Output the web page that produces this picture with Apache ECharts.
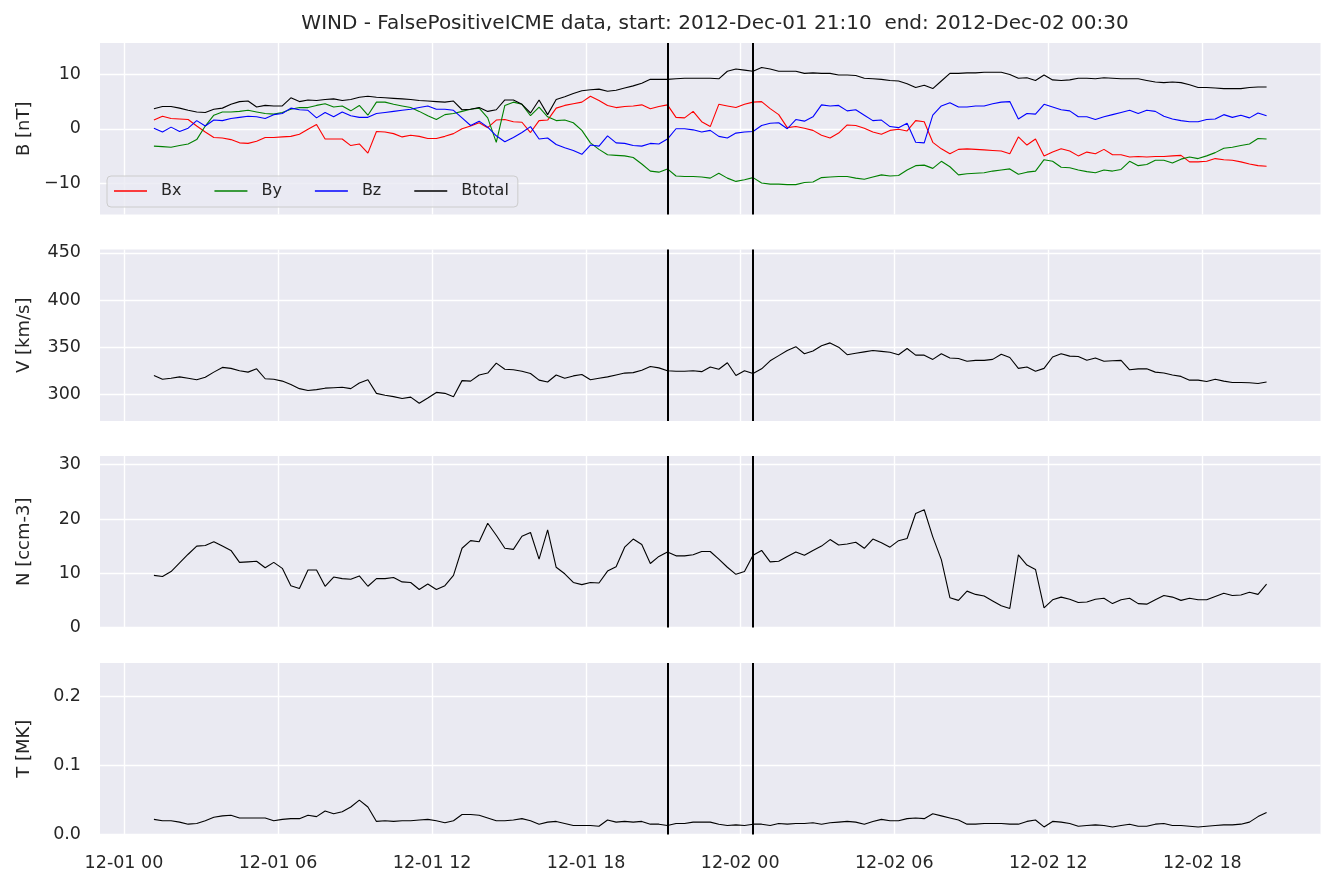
<!DOCTYPE html>
<html>
<head>
<meta charset="utf-8">
<script src="https://cdn.jsdelivr.net/npm/echarts@6/dist/echarts.min.js"></script>
<style>html,body{margin:0;padding:0;background:#fff}#c{width:1336px;height:886px}</style>
</head>
<body>
<div id="c"></div>
<script>
// ---- data (20-minute samples from 2012-12-01 01:10 to 2012-12-02 20:30) ----
const startTime = '2012-12-01T01:10';
const stepMinutes = 20;

const Bx = [
 1.6,2.3,1.9, 1.8,1.7,0.5, -0.6,-1.6,-1.7, -2.0,-2.6,-2.7,
 -2.3,-1.6,-1.6, -1.5,-1.4,-1.0, -0.1,0.8,-1.9, -1.9,-1.9,-3.1,
 -2.8,-4.5,-0.5, -0.6,-0.9,-1.5, -1.2,-1.4,-1.8, -1.8,-1.4,-0.9,
 0.0,0.5,1.1, 0.2,1.6,1.7, 1.3,1.2,-0.7, 1.5,1.6,3.8,
 4.3,4.6,4.9, 6.0,5.2,4.3, 3.9,4.1,4.2, 4.4,3.7,4.1,
 4.4,2.1,2.0, 3.2,1.3,0.4, 4.5,4.2,3.9, 4.5,4.9,5.0,
 3.7,2.6,0.2, 0.4,0.1,-0.3, -1.2,-1.7,-0.8, 0.7,0.6,0.1,
 -0.6,-1.0,-0.3, -0.1,-0.4,1.5, 1.3,-2.5,-3.7, -4.6,-3.8,-3.7,
 -3.8,-3.9,-4.0, -4.1,-4.6,-1.5, -3.0,-1.9,-5.0, -4.3,-3.7,-4.1,
 -5.0,-4.3,-4.6, -3.8,-4.8,-4.8, -5.2,-5.1,-5.2, -5.1,-5.1,-5.0,
 -4.9,-6.1,-6.1, -6.0,-5.5,-5.7, -5.8,-6.1,-6.5, -6.8,-6.9
];
const By = [
 -3.2,-3.3,-3.4, -3.1,-2.8,-2.0, 0.5,2.5,3.1, 3.1,3.2,3.4,
 3.1,2.8,2.7, 3.0,3.6,3.9, 3.9,4.3,4.6, 4.0,4.2,3.3,
 4.3,2.5,4.9, 4.9,4.5,4.2, 3.9,3.2,2.4, 1.7,2.6,2.8,
 3.2,3.6,3.8, 2.0,-2.5,4.3, 4.9,4.5,2.4, 4.0,2.2,1.5,
 1.6,1.1,-0.3, -2.6,-3.8,-4.8, -4.9,-5.0,-5.3, -6.5,-7.8,-8.0,
 -7.4,-8.7,-8.8, -8.8,-8.9,-9.1, -8.2,-9.1,-9.7, -9.4,-9.0,-10.0,
 -10.2,-10.2,-10.3, -10.3,-9.9,-9.8, -9.0,-8.9,-8.8, -8.8,-9.1,-9.3,
 -8.9,-8.5,-8.7, -8.6,-7.6,-6.8, -6.7,-7.3,-6.0, -7.0,-8.5,-8.3,
 -8.2,-8.1,-7.8, -7.6,-7.4,-8.4, -8.0,-7.8,-5.7, -6.0,-7.1,-7.2,
 -7.6,-7.9,-8.1, -7.6,-7.8,-7.5, -6.0,-6.8,-6.6, -5.8,-5.8,-6.3,
 -5.6,-5.2,-5.5, -5.0,-4.4,-3.6, -3.4,-3.1,-2.8, -1.8,-1.9
];
const Bz = [
 0.1,-0.6,0.3, -0.5,0.1,1.5, 0.5,1.6,1.5, 1.9,2.1,2.3,
 2.2,1.9,2.6, 2.8,3.8,3.5, 3.4,2.0,3.0, 2.2,3.1,2.4,
 2.1,2.1,2.8, 3.0,3.2,3.4, 3.6,3.9,4.2, 3.6,3.6,3.4,
 2.0,0.6,1.4, 0.3,-1.3,-2.4, -1.6,-0.7,0.4, -1.9,-1.7,-2.9,
 -3.5,-4.0,-4.7, -3.0,-3.2,-1.3, -2.6,-2.7,-3.1, -3.2,-2.7,-2.8,
 -1.9,0.0,0.0, -0.2,-0.6,-0.3, -1.4,-1.7,-0.8, -0.6,-0.5,0.6,
 1.0,1.1,0.0, 1.7,1.4,2.2, 4.4,4.2,4.3, 3.3,3.5,2.5,
 1.5,1.6,0.4, 0.2,1.0,-2.5, -2.6,2.5,4.2, 4.8,4.0,4.0,
 4.2,4.2,4.6, 4.9,5.0,1.8, 2.8,2.7,4.5, 4.0,3.5,3.3,
 2.2,2.2,1.7, 2.2,2.6,3.0, 3.4,2.8,3.4, 3.2,2.3,1.8,
 1.5,1.3,1.3, 1.7,1.8,2.6, 2.1,2.5,2.0, 2.9,2.4
];
const Btotal = [
 3.7,4.1,4.1, 3.8,3.4,3.1, 3.0,3.6,3.8, 4.5,5.0,5.1,
 4.0,4.3,4.2, 4.2,5.7,5.0, 5.3,5.2,5.4, 5.5,5.2,5.4,
 5.8,6.0,5.8, 5.7,5.6,5.5, 5.4,5.2,5.1, 5.0,4.9,5.1,
 3.5,3.6,3.9, 3.2,3.5,5.3, 5.3,4.5,2.9, 5.3,2.6,5.4,
 5.9,6.5,7.0, 7.2,7.3,6.9, 7.1,7.5,7.9, 8.4,9.1,9.1,
 9.1,9.2,9.3, 9.3,9.3,9.3, 9.2,10.6,11.0, 10.8,10.6,11.3,
 11.0,10.6,10.6, 10.6,10.2,10.3, 10.2,10.2,9.9, 9.9,9.8,9.3,
 9.2,9.1,8.9, 8.8,8.3,7.6, 8.0,7.4,8.8, 10.2,10.2,10.3,
 10.3,10.4,10.4, 10.4,10.0,9.3, 9.4,8.9,9.9, 9.0,8.9,9.0,
 9.3,9.3,9.2, 9.4,9.3,9.2, 9.2,9.2,8.9, 8.6,8.5,8.6,
 8.5,8.1,7.6, 7.6,7.5,7.4, 7.4,7.4,7.6, 7.7,7.7
];
const V = [
 320,316,317, 318.5,317,315.5, 318,323.5,328.5, 327.5,325,323.5,
 327,316.5,316, 314,310.5,306, 304,305,306.5, 307,307.5,306,
 312,315.5,301, 299,297.5,295.5, 297,290.5,296, 302,301,297.5,
 314.5,314,320.5, 322.5,333,326.5, 326,324.5,322, 315,313,320.5,
 317,319.5,321, 315.5,317,318.5, 320.5,322.5,323, 325.5,329.5,328,
 325,324.5,324.5, 325,324,329, 326.5,333.5,320, 325,322,327,
 335.5,341,346.5, 350.5,343,346, 351.5,354.5,350, 342,343.5,345,
 346.5,345.5,344.5, 342,348.5,341.5, 341.5,337,343, 338.5,338,335,
 336,336,337, 342.5,339,327.5, 329,324.5,327.5, 339.5,343,340.5,
 340,336,338.5, 335,335.5,336, 326,327,327, 323.5,322.5,320.5,
 319,315,315, 313.5,316,314, 312.5,312.5,312.3, 311.5,313
];
const N = [
 9.6,9.4,10.3, 11.9,13.5,15.0, 15.1,15.8,15.0, 14.2,12.0,12.1,
 12.2,11.0,12.0, 10.9,7.7,7.2, 10.6,10.6,7.6, 9.3,9.0,8.9,
 9.5,7.6,9.0, 9.0,9.2,8.4, 8.3,7.0,8.0, 7.0,7.7,9.6,
 14.6,16.0,15.8, 19.2,17.0,14.6, 14.4,16.8,17.5, 12.6,18.0,11.1,
 9.9,8.3,7.9, 8.3,8.2,10.4, 11.2,14.8,16.3, 15.3,11.8,13.1,
 13.9,13.2,13.2, 13.4,14.0,14.0, 12.6,11.1,9.8, 10.3,13.3,14.2,
 12.1,12.2,13.1, 13.9,13.3,14.2, 15.0,16.2,15.2, 15.4,15.7,14.6,
 16.3,15.6,14.8, 16.0,16.4,21.0, 21.7,16.7,12.5, 5.5,5.0,6.7,
 6.1,5.8,4.9, 4.0,3.5,13.4, 11.5,10.7,3.6, 5.1,5.6,5.2,
 4.6,4.7,5.2, 5.4,4.4,5.1, 5.4,4.4,4.3, 5.1,5.9,5.6,
 5.0,5.4,5.1, 5.1,5.7,6.3, 5.9,6.0,6.5, 6.1,8.0
];
const T = [
 0.022,0.020,0.020, 0.018,0.015,0.016, 0.020,0.025,0.027, 0.028,0.024,0.024,
 0.024,0.024,0.020, 0.022,0.023,0.023, 0.028,0.026,0.034, 0.030,0.033,0.040,
 0.050,0.040,0.019, 0.020,0.019,0.020, 0.020,0.021,0.022, 0.020,0.017,0.020,
 0.029,0.029,0.028, 0.024,0.020,0.020, 0.021,0.023,0.020, 0.015,0.018,0.019,
 0.016,0.013,0.013, 0.013,0.012,0.021, 0.018,0.019,0.018, 0.019,0.015,0.015,
 0.013,0.016,0.016, 0.018,0.018,0.018, 0.015,0.013,0.014, 0.013,0.015,0.015,
 0.013,0.016,0.015, 0.016,0.016,0.017, 0.015,0.017,0.018, 0.019,0.018,0.015,
 0.019,0.022,0.020, 0.020,0.023,0.024, 0.023,0.030,0.027, 0.024,0.021,0.015,
 0.015,0.016,0.016, 0.016,0.015,0.015, 0.019,0.021,0.011, 0.019,0.018,0.016,
 0.012,0.013,0.014, 0.013,0.011,0.013, 0.015,0.012,0.012, 0.015,0.016,0.013,
 0.013,0.012,0.011, 0.012,0.013,0.014, 0.014,0.015,0.018, 0.026,0.032
];

const xTickTimes = ['2012-12-01T00:00','2012-12-01T06:00','2012-12-01T12:00','2012-12-01T18:00',
                    '2012-12-02T00:00','2012-12-02T06:00','2012-12-02T12:00','2012-12-02T18:00'];
const xTickLabels = ['12-01 00','12-01 06','12-01 12','12-01 18','12-02 00','12-02 06','12-02 12','12-02 18'];
const xRange = ['2012-11-30T23:04','2012-12-02T22:36'];
const eventTimes = ['2012-12-01T21:10','2012-12-02T00:30'];

const bTicks = [-10, 0, 10];
const vTicks = [300, 350, 400, 450];
const nTicks = [0, 10, 20, 30];
const tTicks = [0, 0.1, 0.2];
const yRanges = [[-15.8, 15.8], [271.7, 453.5], [0, 31.6], [0, 0.249]];
const yNames = ['B [nT]', 'V [km/s]', 'N [ccm-3]', 'T [MK]'];
const titleText = 'WIND - FalsePositiveICME data, start: 2012-Dec-01 21:10  end: 2012-Dec-02 00:30';

// ---- build ----
const t0 = new Date(startTime).getTime();
const times = Bx.map((_, i) => t0 + i * stepMinutes * 60000);
const pair = arr => arr.map((v, i) => [times[i], v]);
const xTicksMs = xTickTimes.map(s => new Date(s).getTime());
const xMin = new Date(xRange[0]).getTime();
const xMax = new Date(xRange[1]).getTime();
const events = eventTimes.map(s => new Date(s).getTime());

const TXT = '#262626';
const FONT = 'DejaVu Sans';
const tops = [43, 249.5, 456, 663];
const H = 171.5;

const grids = tops.map(t => ({
  left: 100, top: t, width: 1220.5, height: H,
  show: true, backgroundColor: '#EAEAF2', borderWidth: 0
}));

const xAxes = tops.map((_, i) => ({
  type: 'value', gridIndex: i, min: xMin, max: xMax, scale: true,
  axisLine: { show: false },
  axisTick: { show: false, customValues: xTicksMs },
  axisLabel: {
    show: i === 3, customValues: xTicksMs, margin: 20,
    fontSize: 17.5, color: TXT, fontFamily: FONT,
    formatter: v => { const k = xTicksMs.indexOf(v); return k >= 0 ? xTickLabels[k] : ''; }
  },
  splitLine: { show: true, lineStyle: { color: '#ffffff', width: 1.4 } }
}));

const tickSets = [bTicks, vTicks, nTicks, tTicks];
const fmts = [
  v => (v < 0 ? '\u2212' + Math.abs(v) : String(v)),
  v => String(v),
  v => String(v),
  v => Number(v).toFixed(1)
];
const yAxes = tops.map((_, i) => ({
  type: 'value', gridIndex: i, min: yRanges[i][0], max: yRanges[i][1],
  axisLine: { show: false },
  axisTick: { show: false, customValues: tickSets[i] },
  axisLabel: { customValues: tickSets[i], formatter: fmts[i], margin: 19,
               fontSize: 17.5, color: TXT, fontFamily: FONT },
  splitLine: { show: true, lineStyle: { color: '#ffffff', width: 1.4 } },
  name: yNames[i], nameLocation: 'middle', nameRotate: 90, nameGap: 67,
  nameTextStyle: { fontSize: 18, color: TXT, fontFamily: FONT }
}));

const evLine = {
  symbol: 'none', silent: true, label: { show: false },
  lineStyle: { color: '#000000', width: 2, type: 'solid' },
  emphasis: { disabled: true },
  data: events.map(e => ({ xAxis: e }))
};

function ln(name, data, color, gi, withMark) {
  const s = {
    name, type: 'line', data: pair(data), xAxisIndex: gi, yAxisIndex: gi,
    showSymbol: false, symbol: 'none', color,
    lineStyle: { color, width: 1.1 }, animation: false, silent: true
  };
  if (withMark) s.markLine = evLine;
  return s;
}

const chart = echarts.init(document.getElementById('c'), null, { renderer: 'canvas' });
chart.setOption({
  animation: false,
  backgroundColor: '#ffffff',
  textStyle: { fontFamily: FONT, color: TXT },
  title: {
    text: titleText, left: 710, textAlign: 'center', top: 9,
    textStyle: { fontSize: 20, fontWeight: 'normal', color: TXT, fontFamily: FONT }
  },
  legend: {
    data: ['Bx', 'By', 'Bz', 'Btotal'],
    left: 107, top: 176, orient: 'horizontal',
    icon: 'rect', itemWidth: 33, itemHeight: 1.3, itemGap: 33,
    padding: [7, 9, 8, 7],
    backgroundColor: 'rgba(234,234,242,0.8)', borderColor: '#cccccc', borderWidth: 1, borderRadius: 4,
    textStyle: { fontSize: 16, color: TXT, fontFamily: FONT, padding: [0, 0, 0, 9] },
    selectedMode: false
  },
  grid: grids,
  xAxis: xAxes,
  yAxis: yAxes,
  series: [
    ln('Bx', Bx, '#ff0000', 0, false),
    ln('By', By, '#008000', 0, false),
    ln('Bz', Bz, '#0000ff', 0, false),
    ln('Btotal', Btotal, '#000000', 0, true),
    ln('V', V, '#000000', 1, true),
    ln('N', N, '#000000', 2, true),
    ln('T', T, '#000000', 3, true)
  ]
});
</script>
</body>
</html>
